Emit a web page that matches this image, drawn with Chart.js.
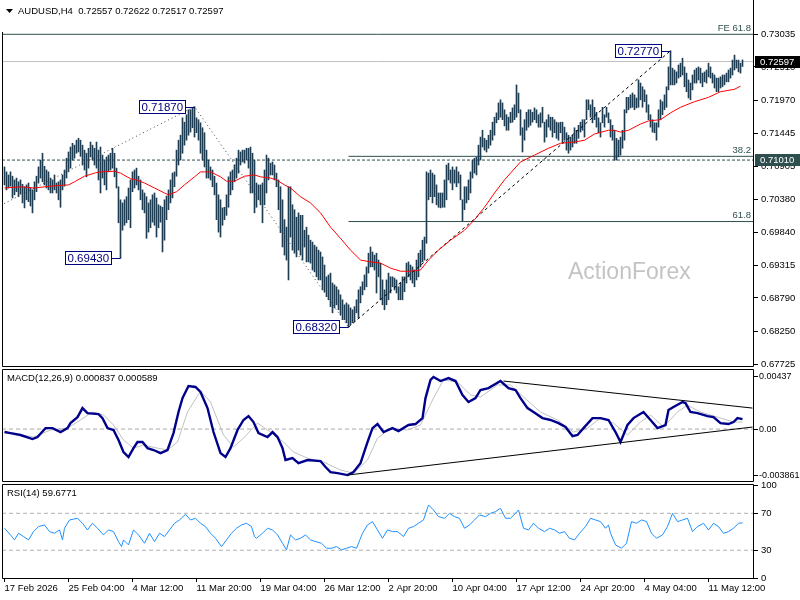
<!DOCTYPE html>
<html>
<head>
<meta charset="utf-8">
<title>AUDUSD H4</title>
<script src="https://cdn.jsdelivr.net/npm/chart.js@4.4.1/dist/chart.umd.min.js"></script>
<style>
  html, body { margin: 0; padding: 0; background: #fff; }
  #wrap { position: relative; width: 800px; height: 600px; overflow: hidden; background: #fff; }
  canvas { position: absolute; left: 0; }
  #price { top: 0; }
  #macd { top: 366px; }
  #rsi { top: 481px; }
</style>
</head>
<body>
<div id="wrap">
  <canvas id="price" width="800" height="370"></canvas>
  <canvas id="macd" width="800" height="118"></canvas>
  <canvas id="rsi" width="800" height="119"></canvas>
</div>
<script>
// ---- data ----
const symbol = 'AUDUSD,H4';
const lastOhlc = [0.72557, 0.72622, 0.72517, 0.72597];

const highs = [
  0.7090,0.7082,0.7077,0.7082,0.7075,0.7069,0.7072,0.7066,0.7069,0.7062,
  0.7058,0.7061,0.7064,0.7056,0.7053,0.7066,0.7075,0.7090,0.7101,0.7112,
  0.7091,0.7085,0.7082,0.7072,0.7069,0.7077,0.7064,0.7066,0.7069,0.7077,
  0.7085,0.7104,0.7114,0.7122,0.7128,0.7125,0.7133,0.7136,0.7133,0.7125,
  0.7117,0.7112,0.7120,0.7130,0.7125,0.7120,0.7130,0.7117,0.7122,0.7109,
  0.7101,0.7106,0.7109,0.7112,0.7120,0.7112,0.7088,0.7058,0.7037,0.7032,
  0.7037,0.7042,0.7056,0.7069,0.7082,0.7085,0.7088,0.7075,0.7069,0.7053,
  0.7048,0.7042,0.7032,0.7037,0.7045,0.7048,0.7040,0.7029,0.7027,0.7025,
  0.7037,0.7043,0.7053,0.7069,0.7080,0.7082,0.7117,0.7133,0.7141,0.7169,
  0.7162,0.7174,0.7182,0.7182,0.7185,0.7187,0.7169,0.7166,0.7161,0.7153,
  0.7145,0.7117,0.7101,0.7090,0.7085,0.7075,0.7064,0.7045,0.7037,0.7024,
  0.7025,0.7045,0.7074,0.7082,0.7085,0.7093,0.7104,0.7117,0.7114,0.7117,
  0.7117,0.7120,0.7120,0.7122,0.7112,0.7101,0.7064,0.7061,0.7061,0.7064,
  0.7085,0.7109,0.7104,0.7096,0.7098,0.7093,0.7080,0.7069,0.7058,0.7037,
  0.7005,0.6993,0.7058,0.7058,0.7029,0.7021,0.7009,0.7016,0.7012,0.7012,
  0.6988,0.6993,0.6980,0.6972,0.6969,0.6964,0.6961,0.6956,0.6953,0.6945,
  0.6932,0.6913,0.6916,0.6919,0.6903,0.6900,0.6897,0.6892,0.6884,0.6876,
  0.6868,0.6871,0.6868,0.6863,0.6860,0.6865,0.6876,0.6892,0.6897,0.6905,
  0.6916,0.6929,0.6951,0.6961,0.6953,0.6948,0.6951,0.6940,0.6935,0.6908,
  0.6892,0.6908,0.6919,0.6913,0.6913,0.6911,0.6908,0.6897,0.6903,0.6913,
  0.6913,0.6935,0.6937,0.6932,0.6929,0.6924,0.6940,0.6951,0.6956,0.6972,
  0.6977,0.7082,0.7080,0.7085,0.7080,0.7077,0.7061,0.7048,0.7048,0.7048,
  0.7069,0.7093,0.7096,0.7085,0.7090,0.7085,0.7090,0.7082,0.7077,0.7037,
  0.7058,0.7058,0.7069,0.7082,0.7101,0.7104,0.7106,0.7125,0.7138,0.7149,
  0.7136,0.7133,0.7141,0.7149,0.7162,0.7170,0.7177,0.7193,0.7198,0.7193,
  0.7182,0.7174,0.7170,0.7178,0.7185,0.7190,0.7222,0.7209,0.7182,0.7153,
  0.7166,0.7178,0.7182,0.7182,0.7178,0.7185,0.7182,0.7174,0.7177,0.7186,
  0.7162,0.7166,0.7174,0.7170,0.7170,0.7166,0.7162,0.7161,0.7162,0.7162,
  0.7154,0.7145,0.7141,0.7138,0.7141,0.7153,0.7149,0.7157,0.7162,0.7166,
  0.7166,0.7198,0.7198,0.7190,0.7198,0.7186,0.7178,0.7169,0.7161,0.7186,
  0.7174,0.7186,0.7177,0.7166,0.7157,0.7149,0.7136,0.7133,0.7138,0.7149,
  0.7182,0.7202,0.7202,0.7206,0.7209,0.7206,0.7201,0.7230,0.7225,0.7219,
  0.7214,0.7206,0.7190,0.7174,0.7166,0.7161,0.7161,0.7182,0.7198,0.7195,
  0.7206,0.7219,0.7251,0.7277,0.7249,0.7246,0.7243,0.7254,0.7257,0.7265,
  0.7251,0.7241,0.7230,0.7225,0.7238,0.7246,0.7249,0.7251,0.7249,0.7241,
  0.7243,0.7246,0.7257,0.7251,0.7241,0.7238,0.7233,0.7233,0.7235,0.7238,
  0.7238,0.7241,0.7246,0.7249,0.7262,0.7270,0.7262,0.7262,0.7257,0.72622
];
const lows = [
  0.7061,0.7053,0.7056,0.7059,0.7040,0.7045,0.7050,0.7042,0.7046,0.7032,
  0.7024,0.7037,0.7034,0.7027,0.7016,0.7037,0.7050,0.7064,0.7072,0.7066,
  0.7061,0.7056,0.7053,0.7048,0.7048,0.7053,0.7048,0.7037,0.7025,0.7053,
  0.7059,0.7072,0.7082,0.7088,0.7101,0.7104,0.7112,0.7114,0.7107,0.7093,
  0.7085,0.7074,0.7088,0.7106,0.7101,0.7093,0.7088,0.7069,0.7048,0.7072,
  0.7061,0.7053,0.7082,0.7085,0.7088,0.7074,0.7056,0.7000,0.6943,0.6988,
  0.6996,0.7000,0.7005,0.6992,0.7050,0.7056,0.7061,0.7053,0.7037,0.7021,
  0.7016,0.6975,0.6985,0.6992,0.7001,0.6996,0.6977,0.6992,0.7001,0.6953,
  0.6972,0.7005,0.7021,0.7032,0.7040,0.7058,0.7075,0.7093,0.7101,0.7112,
  0.7125,0.7133,0.7141,0.7146,0.7153,0.7138,0.7145,0.7133,0.7112,0.7101,
  0.7090,0.7072,0.7072,0.7069,0.7058,0.7045,0.7005,0.6985,0.6977,0.6996,
  0.7005,0.7012,0.7025,0.7045,0.7053,0.7066,0.7072,0.7080,0.7093,0.7098,
  0.7096,0.7101,0.7088,0.7048,0.7048,0.7016,0.7025,0.7037,0.7029,0.7000,
  0.7029,0.7048,0.7069,0.7077,0.7077,0.7069,0.7058,0.7021,0.6984,0.6961,
  0.6948,0.6940,0.6908,0.6977,0.6956,0.6951,0.6945,0.6956,0.6948,0.6940,
  0.6961,0.6937,0.6937,0.6935,0.6924,0.6921,0.6913,0.6908,0.6908,0.6892,
  0.6889,0.6881,0.6876,0.6865,0.6855,0.6863,0.6868,0.6860,0.6852,0.6844,
  0.6844,0.6839,0.6832,0.6836,0.6839,0.6841,0.6855,0.6847,0.6871,0.6884,
  0.6892,0.6897,0.6919,0.6929,0.6929,0.6924,0.6887,0.6913,0.6876,0.6868,
  0.6860,0.6868,0.6876,0.6887,0.6897,0.6892,0.6887,0.6876,0.6876,0.6876,
  0.6889,0.6903,0.6913,0.6908,0.6903,0.6897,0.6908,0.6913,0.6929,0.6937,
  0.6940,0.6967,0.7037,0.7042,0.7032,0.7042,0.7029,0.7025,0.7024,0.7025,
  0.7025,0.7037,0.7069,0.7064,0.7053,0.7064,0.7058,0.7064,0.7037,0.7003,
  0.7021,0.7032,0.7037,0.7048,0.7072,0.7080,0.7077,0.7093,0.7101,0.7122,
  0.7117,0.7114,0.7120,0.7125,0.7133,0.7141,0.7161,0.7166,0.7170,0.7166,
  0.7156,0.7149,0.7149,0.7161,0.7162,0.7166,0.7170,0.7177,0.7141,0.7114,
  0.7133,0.7149,0.7154,0.7157,0.7162,0.7166,0.7161,0.7154,0.7154,0.7161,
  0.7130,0.7138,0.7154,0.7149,0.7138,0.7145,0.7136,0.7133,0.7145,0.7128,
  0.7133,0.7117,0.7112,0.7117,0.7122,0.7128,0.7128,0.7136,0.7146,0.7149,
  0.7138,0.7166,0.7182,0.7170,0.7161,0.7166,0.7154,0.7145,0.7138,0.7161,
  0.7154,0.7170,0.7161,0.7138,0.7133,0.7101,0.7101,0.7106,0.7109,0.7120,
  0.7133,0.7177,0.7182,0.7185,0.7186,0.7182,0.7185,0.7186,0.7198,0.7186,
  0.7195,0.7178,0.7166,0.7154,0.7146,0.7145,0.7133,0.7154,0.7166,0.7174,
  0.7182,0.7186,0.7214,0.7222,0.7222,0.7222,0.7225,0.7233,0.7235,0.7238,
  0.7219,0.7211,0.7201,0.7198,0.7214,0.7225,0.7225,0.7230,0.7225,0.7219,
  0.7227,0.7225,0.7235,0.7233,0.7225,0.7217,0.7211,0.7211,0.7217,0.7219,
  0.7222,0.7227,0.7227,0.7233,0.7238,0.7246,0.7249,0.7243,0.7241,0.72517
];

// red moving average, sampled along the bars
const maX = [0,8,15,23,32,35,40,45,48,55,58,63,66,70,75,80,82,86,90,95,98,103,108,111,115,120,125,128,133,136,140,143,148,153,158,163,168,173,178,183,188,193,198,203,208,212,217,223,230,235,240,245,250,253,258,265,272,278,285,290,295,302,305,308,312,318,322,328,333,338,345,352,358,365,368];
const maY = [0.7056,0.7058,0.7056,0.7059,0.7061,0.7066,0.7075,0.7080,0.7082,0.7083,0.7080,0.7071,0.7069,0.7064,0.7056,0.7048,0.7045,0.7050,0.7061,0.7074,0.7082,0.7082,0.7074,0.7067,0.7067,0.7075,0.7077,0.7074,0.7072,0.7069,0.7061,0.7056,0.7042,0.7032,0.7016,0.6993,0.6975,0.6956,0.6940,0.6937,0.6935,0.6927,0.6922,0.6922,0.6924,0.6940,0.6956,0.6972,0.6988,0.7005,0.7025,0.7048,0.7069,0.7080,0.7098,0.7109,0.7120,0.7128,0.7130,0.7133,0.7143,0.7149,0.7149,0.7146,0.7149,0.7159,0.7164,0.7166,0.7177,0.7186,0.7195,0.7202,0.7211,0.7215,0.7220];

// swing labels
const swingIdx = [95, 58, 172, 333];
const swingPrice = [0.7187, 0.6943, 0.6832, 0.7277];

// levels
const feLevel = 0.73035;
const supportLevel = 0.71010;
const fib382 = 0.7107;
const fib618 = 0.7002;
const fibStart = 172;

// trend lines (bar index / price)
const feLineX = [-2, 95, 172];
const feLineY = [0.7028, 0.7187, 0.6832];
const upLineX = [172, 333];
const upLineY = [0.6832, 0.7277];

// MACD(12,26,9)
const macdX = [0,3,8,14,16.5,20.5,24,28,31.5,33,36.5,39,41.5,47,49,51.5,54.5,57,59.5,62,64.5,66.5,69,71.5,74.5,78,81.5,84.5,87,89,92,95.5,98,101.5,104.5,108,110.5,113,116.5,119.5,122,124.5,127,131.5,134,136.5,139,140.5,144,147,151.5,158,160.5,163,166.5,171.5,174.5,178,181.5,184,186.5,189.5,194,197,202,205.5,209,210.5,213,214.5,218,222,225.5,229,232,235.5,238,242,248,252,255.5,258,261.5,264.5,269,273,277,280.5,284,286.5,289.5,294,298,302,305.5,308,311.5,314.5,319.5,323,326.5,330.5,332,334.5,339,340.5,343,346.5,351.5,354.5,358,362,364.5,366.5,369];
const macdY = [-0.00025,-0.00034,-0.0005,-0.00084,-0.00067,0.00008,0.00008,-0.00025,0.00008,0.0005,0.001,0.00176,0.00134,0.00126,0.00092,0.00008,-0.00008,-0.00092,-0.00193,-0.00235,-0.0016,-0.00109,-0.00109,-0.0016,-0.00176,-0.00202,-0.00176,-0.00034,0.00143,0.0026,0.00361,0.00353,0.00311,0.00176,-0.00025,-0.00202,-0.00235,-0.0016,-0.00008,0.00076,0.00109,0.00059,-0.00034,-0.00067,-0.00025,-0.00067,-0.0016,-0.0026,-0.00244,-0.00286,-0.0026,-0.00269,-0.00319,-0.00361,-0.0037,-0.003861,-0.00361,-0.00286,-0.00109,0.00008,0.00042,-0.00025,0.00008,-0.00017,0.00034,0.00042,0.00092,0.0026,0.00412,0.00437,0.00403,0.00428,0.00403,0.00286,0.00227,0.0026,0.00328,0.00344,0.00403,0.00344,0.00328,0.0026,0.00176,0.00143,0.00092,0.00076,0.0005,0.00017,-0.00059,-0.0005,0.00008,0.00092,0.00092,0.00076,-0.00025,-0.00109,0.00034,0.00092,0.00143,0.00076,0.00008,0.00034,0.0016,0.00185,0.00227,0.00218,0.00143,0.00134,0.00109,0.001,0.0005,0.00042,0.00059,0.00092,0.000837];
const signalX = [0,14.5,23,31.5,38,44,49.5,54.5,59.5,64.5,69.5,76.5,81.5,86.5,91.5,98,103,109.5,114.5,119.5,126.5,133,139.5,144.5,151.5,159.5,168,174.5,181.5,186.5,193,201.5,208,214.5,219.5,226.5,233,238,246.5,253,259.5,268,276.5,284.5,291.5,298,304.5,311.5,318,323,329.5,336.5,341.5,348,356.5,364.5,369];
const signalY = [-0.00025,-0.00067,-0.00008,0.00008,0.00076,0.00143,0.00118,0.00034,-0.00092,-0.0016,-0.00134,-0.0016,-0.00176,-0.00109,0.00143,0.00319,0.00227,-0.0005,-0.00151,-0.00076,0.0005,-0.00025,-0.00109,-0.00193,-0.00244,-0.00277,-0.00344,-0.0037,-0.0026,-0.00076,0.00008,-0.00008,0.00034,0.0026,0.00412,0.00395,0.00286,0.00269,0.0037,0.0037,0.00269,0.00143,0.00076,-0.00025,0.00008,0.00092,0.0005,-0.0005,0.00059,0.00118,0.00017,0.00143,0.002,0.00143,0.001,0.00059,0.000589];
const macdUpperX = [249.5, 374];
const macdUpperY = [0.00403, 0.00176];
const macdLowerX = [171.5, 374];
const macdLowerY = [-0.003861, 0.00017];

// RSI(14)
const rsiX = [0,3,5,7,9.5,12,14.5,17,20,22.5,25,27.5,29,30,32.5,36.5,39,41.5,44,46.5,49.5,52,54.5,57,58.5,59.5,62,64.5,67,70,72.5,75,77.5,80,82.5,85,87.5,90.5,93,95.5,98,100.5,103,105.5,108.5,111,113.5,116,118.5,121,123.5,125,126,129,131.5,134,136.5,139,141,143,145.5,148,150.5,153,155.5,158.5,161,163.5,166,168.5,171,173.5,176,179,181.5,184,186.5,189,191.5,194,196.5,199.5,202,204.5,207,209.5,212,214.5,217,220,222.5,225,227.5,230,232.5,235,237.5,240.5,243,245.5,248,250.5,253,255.5,257,259.5,262,264.5,267,270,272.5,275,277.5,280,282.5,285,287.5,290.5,293,295.5,298,300.5,302,303,305.5,308.5,311,313.5,316,318.5,321,323.5,326,329,331.5,334,336.5,339,341.5,344,346.5,349.5,352,354.5,357,359.5,362,364.5,367,369];
const rsiY = [53.8,46.6,41.2,48.4,44.8,41.2,50.2,55.6,57.4,50.2,48.4,52,41.2,53.8,62.8,64.6,59.2,52,59.2,53.8,46.6,52,50.2,39.4,34,41.2,35.8,52,46.6,37.6,48.4,39.4,48.4,44.8,52,59.2,62.8,68.9,62.8,64.6,59.2,55.6,48.4,43,34,41.2,48.4,53.8,57.4,59.2,55.6,44.8,43,48.4,53.8,52,46.6,37.6,30.4,46.6,41.2,43,46.6,41.2,39.4,37.6,32.2,32.2,34,30.4,32.2,34,32.2,48.4,57.4,61,52,43,52,50.2,50.2,44.8,53.8,55.6,59.2,62.8,79,73.6,66.4,64.6,70,66.4,64.6,53.8,57.4,62.8,68.2,66.4,70,71.8,75.4,64.6,64.6,70,73.6,53.8,52,59.2,53.8,50.2,53.8,52,48.4,50.2,43,41.2,48.4,55.6,64.6,62.8,61,53.8,57.4,48.4,35.8,32.2,37.6,61,59.2,62.8,61,48.4,43,46.6,55.6,70,61,62.8,64.6,50.2,55.6,59.2,52,59.2,55.6,48.4,50.2,53.8,59.2,59.6771];
const rsiLevels = [70, 30];

// axes
const priceTicks = [0.73035, 0.72510, 0.71970, 0.71445, 0.70905, 0.70380, 0.69840, 0.69315, 0.68790, 0.68250, 0.67725];
const macdTicks = [0.00437, 0, -0.003861];
const macdTickLabels = ['0.00437', '0.00', '-0.003861'];
const rsiTicks = [100, 70, 30, 0];
const timeTicks = [0, 32, 64, 96, 128, 160, 192, 224, 256, 288, 320, 352];
const timeLabels = ['17 Feb 2026', '25 Feb 04:00', '4 Mar 12:00', '11 Mar 20:00', '19 Mar 04:00', '26 Mar 12:00',
  '2 Apr 20:00', '10 Apr 04:00', '17 Apr 12:00', '24 Apr 20:00', '4 May 04:00', '11 May 12:00'];

// ---- styling ----
const FONT = "'Liberation Sans', Arial, sans-serif";
const BAR_COLOR = '#1f3d52';
const SLATE = '#2f4f4f';
const X_MIN = -1.25, X_MAX = 374.25;

Chart.defaults.font.family = FONT;
Chart.defaults.font.size = 9.5;
Chart.defaults.color = '#000';
Chart.defaults.animation = false;
Chart.defaults.plugins.legend.display = false;
Chart.defaults.plugins.tooltip.enabled = false;

const pts = (xs, ys) => xs.map((x, k) => ({ x, y: ys[k] }));

function line(data, color, opts = {}) {
  return Object.assign({
    type: 'line', data, borderColor: color, borderWidth: 1,
    pointRadius: 0, tension: 0, fill: false, order: 2
  }, opts);
}

function timeAxis(show) {
  return {
    type: 'linear', min: X_MIN, max: X_MAX, display: show, offset: false,
    afterBuildTicks: s => { s.ticks = timeTicks.map(v => ({ value: v })); },
    afterFit: s => {
      s.height = show ? 22 : 0;
      s.paddingLeft = 0; s.paddingRight = 0;
    },
    grid: { drawOnChartArea: false, tickLength: 4, color: '#000', offset: false },
    border: { display: false },
    ticks: { align: 'start', maxRotation: 0, autoSkip: false, padding: 1,
      callback: v => timeLabels[timeTicks.indexOf(v)] }
  };
}

function valueAxis(min, max, ticks, labels, fontSize = 9.5, pad = 3) {
  return {
    type: 'linear', position: 'right', min, max,
    afterBuildTicks: s => { s.ticks = ticks.map(v => ({ value: v })); },
    afterFit: s => {
      s.width = 47;
      s.paddingTop = 0; s.paddingBottom = 0;
    },
    grid: { drawOnChartArea: false, tickLength: 5, color: '#000' },
    border: { display: false },
    ticks: { padding: pad, font: { size: fontSize }, callback: (v, i) => labels[i] }
  };
}

function drawFrame(chart, withTop) {
  const { ctx, chartArea: a } = chart;
  const l = a.left + 0.5, r = a.right + 0.5, t = a.top + 0.5, b = a.bottom + 0.5;
  ctx.save();
  ctx.strokeStyle = '#000';
  ctx.lineWidth = 1;
  ctx.beginPath();
  if (withTop) { ctx.moveTo(l, t); ctx.lineTo(r, t); }
  ctx.moveTo(l, t); ctx.lineTo(l, b); ctx.lineTo(r, b);
  ctx.moveTo(r, withTop ? t : 0); ctx.lineTo(r, b);
  ctx.stroke();
  ctx.restore();
}

function axisBox(chart, value, fill) {
  const { ctx } = chart;
  const py = Math.round(chart.scales.y.getPixelForValue(value));
  ctx.fillStyle = fill;
  ctx.fillRect(755, py - 6, 45, 12);
  ctx.fillStyle = '#fff';
  ctx.font = `9.5px ${FONT}`;
  ctx.textBaseline = 'middle';
  ctx.textAlign = 'left';
  ctx.fillText(value.toFixed(5), 760, py + 0.5);
}

const mainOverlay = {
  id: 'mainOverlay',
  beforeDatasetsDraw(chart) {
    const { ctx } = chart;
    ctx.save();
    ctx.fillStyle = '#c4c4c4';
    ctx.font = `23px ${FONT}`;
    ctx.textBaseline = 'middle';
    ctx.fillText('ActionForex', 568, 273);
    ctx.restore();
  },
  afterDraw(chart) {
    const { ctx, scales: { x, y } } = chart;
    drawFrame(chart, false);
    ctx.save();

    // header
    ctx.fillStyle = '#fff';
    ctx.fillRect(0, 0, 250, 32);
    ctx.fillStyle = '#000';
    ctx.beginPath();
    ctx.moveTo(6, 9); ctx.lineTo(13, 9); ctx.lineTo(9.5, 13); ctx.closePath();
    ctx.fill();
    ctx.font = `9.5px ${FONT}`;
    ctx.textBaseline = 'middle';
    ctx.fillText(symbol + '  ' + lastOhlc.map(v => v.toFixed(5)).join(' '), 18, 11);

    // level captions
    ctx.fillStyle = SLATE;
    ctx.textAlign = 'right';
    ctx.textBaseline = 'bottom';
    ctx.fillText('FE 61.8', 751, y.getPixelForValue(feLevel) - 1);
    ctx.fillText('38.2', 751, y.getPixelForValue(fib382) - 1);
    ctx.fillText('61.8', 751, y.getPixelForValue(fib618) - 1);

    // swing labels
    ctx.textAlign = 'left';
    ctx.textBaseline = 'middle';
    ctx.font = `11.5px ${FONT}`;
    ctx.lineWidth = 1;
    swingIdx.forEach((idx, k) => {
      const px = x.getPixelForValue(idx);
      const py = Math.round(y.getPixelForValue(swingPrice[k]));
      const text = swingPrice[k].toFixed(5);
      const w = Math.ceil(ctx.measureText(text).width) + 4, h = 13;
      const bx = Math.round(px - 10 - w), by = py - 7;
      ctx.fillStyle = '#fff';
      ctx.fillRect(bx, by, w, h);
      ctx.strokeStyle = '#000080';
      ctx.strokeRect(bx + 0.5, by + 0.5, w, h);
      ctx.beginPath();
      ctx.moveTo(bx + w + 0.5, py + 0.5);
      ctx.lineTo(px, py + 0.5);
      ctx.stroke();
      ctx.fillStyle = '#000080';
      ctx.fillText(text, bx + 2.5, py + 0.5);
    });

    axisBox(chart, lastOhlc[3], '#000');
    axisBox(chart, supportLevel, SLATE);
    ctx.restore();
  }
};

function panelTitle(text, ty) {
  return {
    id: 'panelTitle',
    afterDraw(chart) {
      drawFrame(chart, true);
      const { ctx, chartArea: a } = chart;
      ctx.save();
      ctx.fillStyle = '#000';
      ctx.font = `9.5px ${FONT}`;
      ctx.textBaseline = 'middle';
      ctx.fillText(text, 7, a.top + ty);
      ctx.restore();
    }
  };
}

// ---- price panel ----
const bars = highs.map((h, i) => ({ x: i, y: [lows[i], h] }));

new Chart(document.getElementById('price'), {
  type: 'bar',
  data: {
    datasets: [
      line(pts([X_MIN, X_MAX], [lastOhlc[3], lastOhlc[3]]), '#c0c0c0', { order: 4 }),
      line(pts([X_MIN, X_MAX], [feLevel, feLevel]), SLATE, { order: 4 }),
      line(pts([X_MIN, X_MAX], [supportLevel, supportLevel]), SLATE, { order: 4, borderDash: [3, 2] }),
      line(pts([fibStart, X_MAX], [fib382, fib382]), SLATE, { order: 4 }),
      line(pts([fibStart, X_MAX], [fib618, fib618]), SLATE, { order: 4 }),
      { type: 'bar', data: bars, backgroundColor: BAR_COLOR, borderWidth: 0,
        barThickness: 1, order: 3 },
      line(pts(feLineX, feLineY), '#444', { order: 1, borderDash: [1, 3] }),
      line(pts(upLineX, upLineY), '#000', { order: 1, borderDash: [3, 3] }),
      line(pts(maX, maY), '#ff0000', { order: 0 })
    ]
  },
  options: {
    responsive: false,
    devicePixelRatio: 1,
    layout: { padding: { left: 2, top: 3, right: 0, bottom: 4 } },
    scales: {
      x: timeAxis(false),
      y: valueAxis(0.67694, 0.73539, priceTicks, priceTicks.map(v => v.toFixed(5)))
    }
  },
  plugins: [mainOverlay]
});

// ---- MACD panel ----
new Chart(document.getElementById('macd'), {
  type: 'line',
  data: {
    datasets: [
      line(pts([X_MIN, X_MAX], [0, 0]), '#a8a8a8', { order: 4, borderDash: [4, 3] }),
      line(pts(signalX, signalY), '#c0c0c0', { order: 2 }),
      line(pts(macdX, macdY), '#00008c', { order: 1, borderWidth: 2.4 }),
      line(pts(macdUpperX, macdUpperY), '#000', { order: 0 }),
      line(pts(macdLowerX, macdLowerY), '#000', { order: 0 })
    ]
  },
  options: {
    responsive: false,
    devicePixelRatio: 1,
    layout: { padding: { left: 2, top: 3, right: 0, bottom: 3 } },
    scales: {
      x: timeAxis(false),
      y: valueAxis(-0.00436, 0.00504, macdTicks, macdTickLabels, 9, 1)
    }
  },
  plugins: [panelTitle('MACD(12,26,9) ' + macdY[macdY.length - 1].toFixed(6) + ' ' + signalY[signalY.length - 1].toFixed(6), 9)]
});

// ---- RSI panel ----
new Chart(document.getElementById('rsi'), {
  type: 'line',
  data: {
    datasets: [
      ...rsiLevels.map(v => line(pts([X_MIN, X_MAX], [v, v]), '#b0b0b0', { order: 4, borderDash: [4, 3] })),
      line(pts(rsiX, rsiY), '#1e90ff', { order: 1 })
    ]
  },
  options: {
    responsive: false,
    devicePixelRatio: 1,
    layout: { padding: { left: 2, top: 3, right: 0, bottom: 0 } },
    scales: {
      x: timeAxis(true),
      y: valueAxis(0, 101.7, rsiTicks, rsiTicks.map(String))
    }
  },
  plugins: [panelTitle('RSI(14) ' + rsiY[rsiY.length - 1].toFixed(4), 9)]
});
</script>
</body>
</html>
